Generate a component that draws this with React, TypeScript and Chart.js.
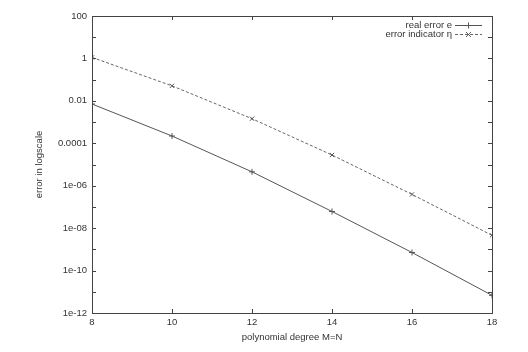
import React, { useEffect, useRef } from "react";
import { Chart, registerables } from "chart.js";

Chart.register(...registerables);

const degrees = [8, 10, 12, 14, 16, 18];
const realError = [7.1e-3, 2.2e-4, 4.5e-6, 6.1e-8, 7.1e-10, 6.8e-12];
const errorIndicator = [1.12, 5.1e-2, 1.44e-3, 2.8e-5, 3.9e-7, 4.6e-9];
const seriesLabels = ["real error e", "error indicator η"];
const xTicks = [8, 10, 12, 14, 16, 18];
const yExponents = [2, 1, 0, -1, -2, -3, -4, -5, -6, -7, -8, -9, -10, -11, -12];
const yLabelMap: Record<string, string> = {
  "2": "100",
  "0": "1",
  "-2": "0.01",
  "-4": "0.0001",
  "-6": "1e-06",
  "-8": "1e-08",
  "-10": "1e-10",
  "-12": "1e-12",
};

const INK = "#444";
const FONT = "'Liberation Sans', Arial, sans-serif";

const framePlugin = {
  id: "frame",
  afterDatasetsDraw(chart: any) {
    const { ctx, chartArea } = chart;
    const { left, right, top, bottom } = chartArea;
    const xs = chart.scales.x;
    const ys = chart.scales.y;
    ctx.save();
    ctx.strokeStyle = INK;
    ctx.lineWidth = 1;
    ctx.strokeRect(Math.round(left) + 0.5, Math.round(top) + 0.5, Math.round(right - left), Math.round(bottom - top));
    const tl = 4;
    ctx.beginPath();
    xTicks.forEach((v) => {
      const px = Math.round(xs.getPixelForValue(v)) + 0.5;
      ctx.moveTo(px, bottom);
      ctx.lineTo(px, bottom - tl);
      ctx.moveTo(px, top);
      ctx.lineTo(px, top + tl);
    });
    yExponents.forEach((e) => {
      const py = Math.round(ys.getPixelForValue(Math.pow(10, e))) + 0.5;
      ctx.moveTo(left, py);
      ctx.lineTo(left + tl, py);
      ctx.moveTo(right, py);
      ctx.lineTo(right - tl, py);
    });
    ctx.stroke();

    // legend (gnuplot style: text right-aligned, sample on the right)
    const textRight = 452;
    const sampleL = 455;
    const sampleR = 482;
    const rows = [25, 34];
    ctx.font = `9.5px ${FONT}`;
    ctx.textAlign = "right";
    ctx.textBaseline = "middle";
    chart.data.datasets.forEach((ds: any, i: number) => {
      const y = rows[i] + 0.5;
      ctx.fillStyle = "#333";
      ctx.fillText(ds.label, textRight, rows[i]);
      ctx.strokeStyle = ds.borderColor;
      ctx.setLineDash(ds.borderDash || []);
      ctx.beginPath();
      ctx.moveTo(sampleL, y);
      ctx.lineTo(sampleR, y);
      ctx.stroke();
      ctx.setLineDash([]);
      const cx = (sampleL + sampleR) / 2;
      ctx.beginPath();
      if (ds.pointStyle === "cross") {
        ctx.moveTo(cx - 3, y);
        ctx.lineTo(cx + 3, y);
        ctx.moveTo(cx, y - 3);
        ctx.lineTo(cx, y + 3);
      } else {
        ctx.moveTo(cx - 2.5, y - 2.5);
        ctx.lineTo(cx + 2.5, y + 2.5);
        ctx.moveTo(cx - 2.5, y + 2.5);
        ctx.lineTo(cx + 2.5, y - 2.5);
      }
      ctx.stroke();
    });
    ctx.restore();
  },
};

export default function App() {
  const ref = useRef<HTMLCanvasElement | null>(null);
  useEffect(() => {
    document.body.style.margin = "0";
    const chart = new Chart(ref.current as HTMLCanvasElement, {
      type: "line",
      data: {
        datasets: [
          {
            label: seriesLabels[0],
            data: degrees.map((d, i) => ({ x: d, y: realError[i] })),
            borderColor: "#555",
            borderWidth: 1,
            pointStyle: "cross",
            pointRadius: 3,
            pointBorderColor: "#555",
            pointBorderWidth: 1,
            fill: false,
            tension: 0,
          },
          {
            label: seriesLabels[1],
            data: degrees.map((d, i) => ({ x: d, y: errorIndicator[i] })),
            borderColor: "#666",
            borderWidth: 1,
            borderDash: [3, 2],
            pointStyle: "crossRot",
            pointRadius: 3,
            pointBorderColor: "#555",
            pointBorderWidth: 1,
            fill: false,
            tension: 0,
          },
        ],
      },
      options: {
        responsive: false,
        animation: false,
        events: [],
        layout: { padding: { left: 26, top: 16, right: 36, bottom: 5 } },
        plugins: { legend: { display: false }, tooltip: { enabled: false } },
        scales: {
          x: {
            type: "linear",
            min: 8,
            max: 18,
            afterBuildTicks: (s: any) => {
              s.ticks = xTicks.map((v) => ({ value: v }));
            },
            afterFit: (s: any) => {
              s.height = 34;
            },
            grid: { display: false, drawTicks: false },
            border: { display: false },
            ticks: { color: "#333", font: { family: FONT, size: 9.5 }, padding: 4, maxRotation: 0 },
            title: {
              display: true,
              text: "polynomial degree M=N",
              color: "#333",
              font: { family: FONT, size: 9.5 },
              padding: { top: 0, bottom: 4 },
            },
          },
          y: {
            type: "logarithmic",
            min: 1e-12,
            max: 100,
            afterBuildTicks: (s: any) => {
              s.ticks = yExponents.map((e) => ({ value: Math.pow(10, e) }));
            },
            afterFit: (s: any) => {
              s.width = 66;
            },
            grid: { display: false, drawTicks: false },
            border: { display: false },
            ticks: {
              color: "#333",
              font: { family: FONT, size: 9.5 },
              padding: 5,
              autoSkip: false,
              callback: (v: any) => {
                const e = Math.round(Math.log10(Number(v)));
                return yLabelMap[String(e)] ?? "";
              },
            },
            title: {
              display: true,
              text: "error in logscale",
              color: "#333",
              font: { family: FONT, size: 9.5 },
              padding: { top: 8, bottom: 0 },
            },
          },
        },
      },
      plugins: [framePlugin],
    } as any);
    return () => chart.destroy();
  }, []);
  return (
    <div style={{ position: "absolute", left: 0, top: 0, width: 528, height: 352, background: "#fff" }}>
      <canvas ref={ref} width={528} height={352} />
    </div>
  );
}
